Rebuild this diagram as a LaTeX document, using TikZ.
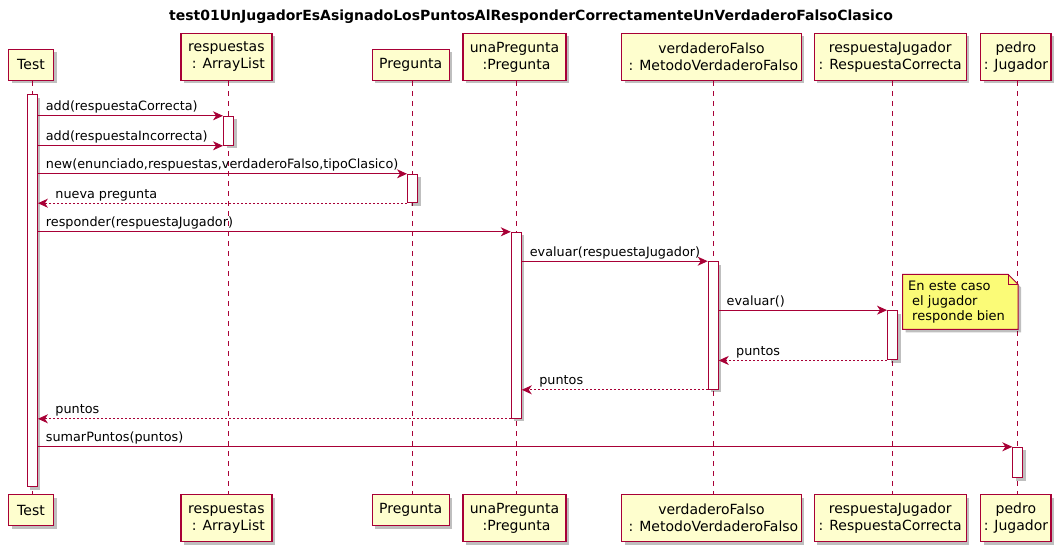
\documentclass[tikz,border=0pt]{standalone}
\usepackage{fontspec}
\setmainfont{DejaVu Sans}
\usetikzlibrary{arrows.meta,shadows,calc,positioning}
\definecolor{umlred}{HTML}{A80036}
\definecolor{umlfill}{HTML}{FEFECE}
\definecolor{notefill}{HTML}{FBFB77}
\tikzset{
  shade box/.style={drop shadow={shadow xshift=3pt,shadow yshift=-3pt,opacity=0.25,fill=black}},
  pbox/.style={draw=umlred, fill=umlfill, line width=1.2pt, inner xsep=3pt, inner ysep=0pt,
    minimum height=31pt, align=center, font=\fontsize{14}{17}\selectfont, shade box},
  pbox2/.style={pbox, minimum height=47pt},
  act/.style={draw=umlred, fill=white, line width=1pt, minimum width=10pt, inner sep=0pt, shade box},
  life/.style={umlred, line width=1pt, dash pattern=on 5pt off 5pt},
  msg/.style={umlred, line width=1pt, -{Stealth[length=10pt,width=9pt,inset=3pt]}},
  ret/.style={msg, dash pattern=on 2pt off 2pt},
  lbl/.style={font=\fontsize{12.8}{15}\selectfont, text=black, inner sep=0pt, anchor=base west, yshift=5pt},
  notebox/.style={draw=umlred, fill=notefill, line width=1pt, shade box},
}
\begin{document}
\begin{tikzpicture}[x=1pt, y=-1pt]
    \useasboundingbox (0,0) rectangle (1064,551);

    \node[font=\bfseries\fontsize{14}{17}\selectfont] (title) at (531,17)
        {test01UnJugadorEsAsignadoLosPuntosAlResponderCorrectamenteUnVerdaderoFalsoClasico};

    % participants, top
    \node[pbox, minimum width=45pt, anchor=south] (test) at (31,81) {Test};
    \node[pbox2, minimum width=91pt, anchor=south] (resp) at (226.4,81) {respuestas\\\hspace*{4pt}: ArrayList};
    \node[pbox, minimum width=77pt, anchor=south] (preg) at (410.7,81) {Pregunta};
    \node[pbox2, minimum width=103pt, anchor=south] (una) at (514.5,81) {unaPregunta\\\hspace*{4pt}:Pregunta};
    \node[pbox2, minimum width=179pt, anchor=south] (vf) at (711.5,81) {verdaderoFalso\\\hspace*{4pt}: MetodoVerdaderoFalso};
    \node[pbox2, minimum width=152pt, anchor=south] (rj) at (890.2,81) {respuestaJugador\\: RespuestaCorrecta};
    \node[pbox2, minimum width=70pt, anchor=south] (pedro) at (1015.9,81) {pedro\\: Jugador};

    % participants, bottom
    \node[pbox, minimum width=45pt, anchor=north] (testB) at (31,494) {Test};
    \node[pbox2, minimum width=91pt, anchor=north] (respB) at (226.4,494) {respuestas\\\hspace*{4pt}: ArrayList};
    \node[pbox, minimum width=77pt, anchor=north] (pregB) at (410.7,494) {Pregunta};
    \node[pbox2, minimum width=103pt, anchor=north] (unaB) at (514.5,494) {unaPregunta\\\hspace*{4pt}:Pregunta};
    \node[pbox2, minimum width=179pt, anchor=north] (vfB) at (711.5,494) {verdaderoFalso\\\hspace*{4pt}: MetodoVerdaderoFalso};
    \node[pbox2, minimum width=152pt, anchor=north] (rjB) at (890.2,494) {respuestaJugador\\: RespuestaCorrecta};
    \node[pbox2, minimum width=70pt, anchor=north] (pedroB) at (1015.9,494) {pedro\\: Jugador};

    % lifelines
    \draw[life] (32.4,81) coordinate (lTest) -- (lTest |- testB.north);
    \draw[life] (228.5,81) coordinate (lResp) -- (lResp |- respB.north);
    \draw[life] (412.5,81) coordinate (lPreg) -- (lPreg |- pregB.north);
    \draw[life] (516.3,81) coordinate (lUna) -- (lUna |- unaB.north);
    \draw[life] (713.2,81) coordinate (lVF) -- (lVF |- vfB.north);
    \draw[life] (892.5,81) coordinate (lRJ) -- (lRJ |- rjB.north);
    \draw[life] (1017.8,81) coordinate (lPedro) -- (lPedro |- pedroB.north);

    % activations
    \node[act, minimum height=392pt] (aTest) at (32.4,290.7) {};
    \node[act, minimum height=29pt] (aResp) at (228.5,130.8) {};
    \node[act, minimum height=28.4pt] (aPreg) at (412.5,188.5) {};
    \node[act, minimum height=186pt] (aUna) at (516.3,325.3) {};
    \node[act, minimum height=127.6pt] (aVF) at (713.2,325.5) {};
    \node[act, minimum height=49.3pt] (aRJ) at (892.5,335.3) {};
    \node[act, minimum height=30.4pt] (aPedro) at (1017.8,462.5) {};

    % note
    \coordinate (nNW) at (902.6,274.3);
    \coordinate (nSE) at (1018,329.3);
    \coordinate (nFold) at ($(nSE |- nNW)+(-10,0)$);
    \draw[notebox] (nNW) -- (nFold) -- ++(10,10) -- (nSE) -- (nNW |- nSE) -- cycle;
    \draw[umlred, line width=1pt] (nFold) -- ++(0,10) -- ++(10,0);
    \node[font=\fontsize{13}{15}\selectfont, align=left, anchor=north west, inner sep=0pt] (note) at (908,281)
        {En este caso\\\hspace*{4pt}el jugador\\\hspace*{4pt}responde bien};

    % messages
    \draw[msg] (aTest.east |- aResp.north) -- node[lbl, at start, xshift=7.5pt] {add(respuestaCorrecta)} (aResp.north west);
    \draw[msg] (aTest.east |- aResp.south) -- node[lbl, at start, xshift=7.5pt] {add(respuestaIncorrecta)} (aResp.south west);
    \draw[msg] (aTest.east |- aPreg.north) -- node[lbl, at start, xshift=7.5pt] {new(enunciado,respuestas,verdaderoFalso,tipoClasico)} (aPreg.north west);
    \draw[ret] (aPreg.south west) -- node[lbl, at end, xshift=17pt] {nueva pregunta} (aTest.east |- aPreg.south);
    \draw[msg] (aTest.east |- aUna.north) -- node[lbl, at start, xshift=7.5pt] {responder(respuestaJugador)} (aUna.north west);
    \draw[msg] (aUna.east |- aVF.north) -- node[lbl, at start, xshift=7.5pt] {evaluar(respuestaJugador)} (aVF.north west);
    \draw[msg] (aVF.east |- aRJ.north) -- node[lbl, at start, xshift=7.5pt] {evaluar()} (aRJ.north west);
    \draw[ret] (aRJ.south west) -- node[lbl, at end, xshift=17pt] {puntos} (aVF.east |- aRJ.south);
    \draw[ret] (aVF.south west) -- node[lbl, at end, xshift=17pt] {puntos} (aUna.east |- aVF.south);
    \draw[ret] (aUna.south west) -- node[lbl, at end, xshift=17pt] {puntos} (aTest.east |- aUna.south);
    \draw[msg] (aTest.east |- aPedro.north) -- node[lbl, at start, xshift=7.5pt] {sumarPuntos(puntos)} (aPedro.north west);
\end{tikzpicture}
\end{document}
